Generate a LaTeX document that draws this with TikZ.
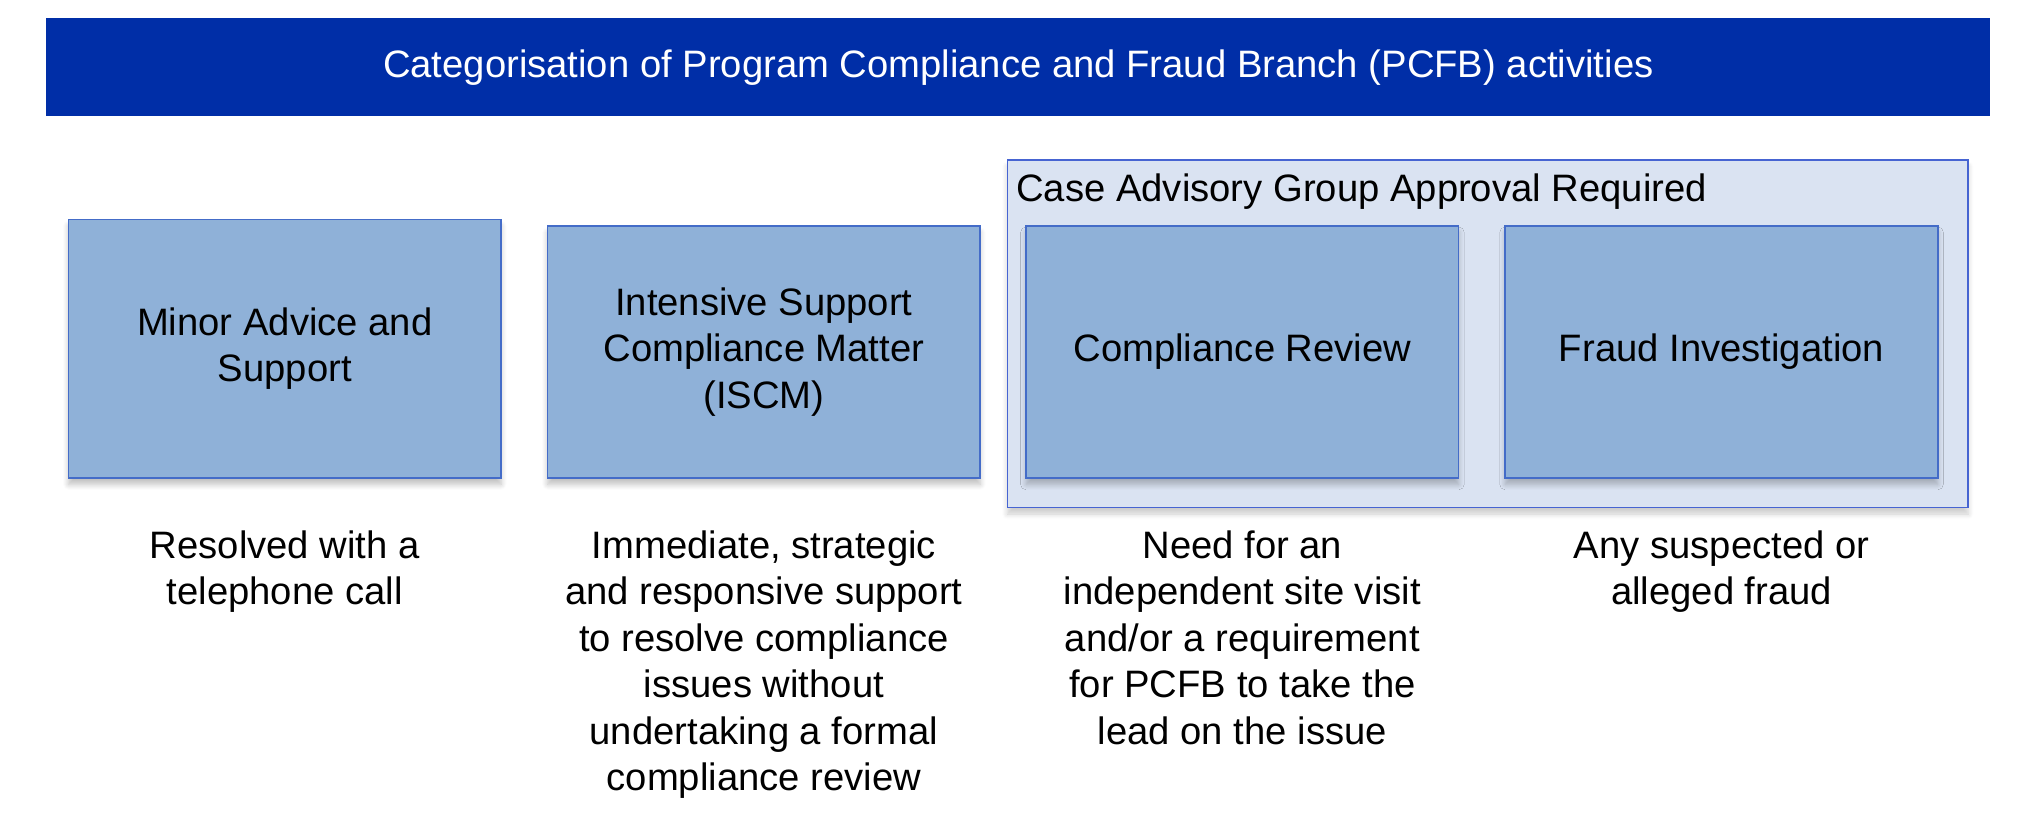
\documentclass[tikz,border=0pt]{standalone}
\usepackage{fontspec}
\setmainfont{Liberation Sans}
\usetikzlibrary{shadows.blur}
\definecolor{titlebg}{RGB}{0,46,167}
\definecolor{boxfill}{RGB}{143,177,216}
\definecolor{boxline}{RGB}{68,108,200}
\definecolor{grpfill}{RGB}{218,227,242}
\definecolor{grpline}{RGB}{70,100,210}
\begin{document}
\begin{tikzpicture}[x=0.5pt,y=-0.5pt,
  every node/.style={font=\fontsize{14.8}{18}\selectfont, inner sep=0pt, outer sep=0pt},
  catbox/.style={draw=boxline, line width=0.6pt, fill=boxfill, minimum width=167.5pt,
    minimum height=97.5pt, align=center,
    blur shadow={shadow xshift=0pt, shadow yshift=-2.5pt, shadow blur steps=6, shadow opacity=25}},
  grpbox/.style={draw=grpline, line width=0.6pt, fill=grpfill, minimum width=372pt, minimum height=134.5pt,
    blur shadow={shadow xshift=0pt, shadow yshift=-2.5pt, shadow blur steps=6, shadow opacity=20}},
  desc/.style={align=center, anchor=north}
]
\useasboundingbox (0,0) rectangle (1568,641);

\node[fill=titlebg, minimum width=752.5pt, minimum height=38pt, text=white] (title) at (788.5,52)
  {Categorisation of Program Compliance and Fraud Branch (PCFB) activities};

\node[grpbox] (grp) at (1152,258.5) {};
\node[anchor=west] (grptitle) at (787,148) {Case Advisory Group Approval Required};

\node[catbox, minimum height=100pt] (minor) at (220.5,270) {Minor Advice and\\Support};
\node[catbox] (iscm) at (591.5,272.5) {Intensive Support\\Compliance Matter\\(ISCM)};
\node[catbox] (cr) at (962,272.5) {Compliance Review};
\node[catbox] (fi) at (1333,272.5) {Fraud Investigation};

\node[desc] (d1) at (220.5,411) {Resolved with a\\telephone call};
\node[desc] (d2) at (591.5,411) {Immediate, strategic\\and responsive support\\to resolve compliance\\issues without\\undertaking a formal\\compliance review};
\node[desc] (d3) at (962,411) {Need for an\\independent site visit\\and/or a requirement\\for PCFB to take the\\lead on the issue};
\node[desc] (d4) at (1333,411) {Any suspected or\\alleged fraud};
\end{tikzpicture}
\end{document}
